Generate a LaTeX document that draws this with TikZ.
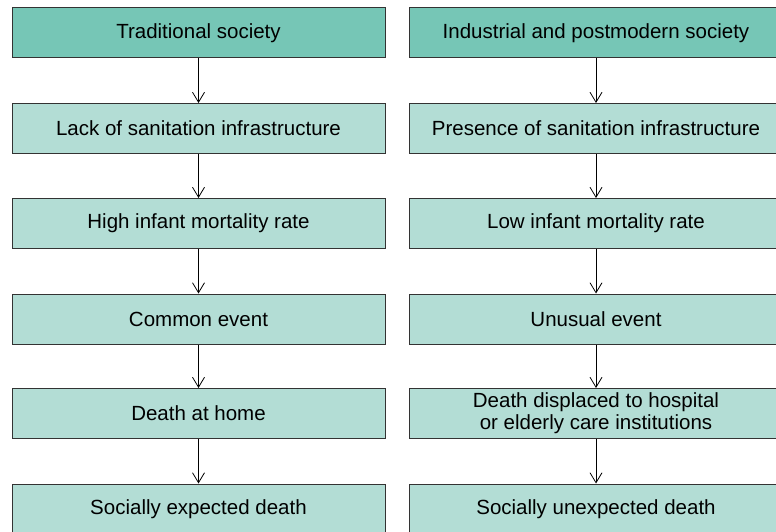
\documentclass[tikz,border=0pt]{standalone}
\usepackage{fontspec}
\setmainfont{Liberation Sans}
\usetikzlibrary{arrows.meta}
\definecolor{topfill}{HTML}{76C6B6}
\definecolor{boxfill}{HTML}{B3DDD5}
\definecolor{edge}{HTML}{333333}
\tikzset{
  box/.style={draw=edge, line width=1pt, fill=boxfill, minimum width=373pt, minimum height=50pt,
    inner sep=0pt, align=center, font=\fontsize{20.5}{22}\selectfont, text=black},
  headbox/.style={box, fill=topfill},
  link/.style={draw=black, line width=0.8pt, -{Straight Barb[length=10pt,width=12pt,line width=0.8pt]}}
}
\begin{document}
\begin{tikzpicture}[x=1pt,y=1pt]
\useasboundingbox (0,0) rectangle (776,531);
\clip (0,0) rectangle (776,531);
% left column
\node[headbox] (l1) at (198.5,498) {Traditional society};
\node[box] (l2) at (198.5,402.5) {Lack of sanitation infrastructure};
\node[box] (l3) at (198.5,307.5) {High infant mortality rate};
\node[box] (l4) at (198.5,212) {Common event};
\node[box] (l5) at (198.5,117.5) {Death at home};
\node[box] (l6) at (198.5,22) {Socially expected death};
% right column
\node[headbox] (r1) at (596,498) {Industrial and postmodern society};
\node[box] (r2) at (596,402.5) {Presence of sanitation infrastructure};
\node[box] (r3) at (596,307.5) {Low infant mortality rate};
\node[box] (r4) at (596,212) {Unusual event};
\node[box] (r5) at (596,117.5) {Death displaced to hospital\\or elderly care institutions};
\node[box] (r6) at (596,22) {Socially unexpected death};
\foreach \c in {l,r}{
  \draw[link] (\c1) -- (\c2);
  \draw[link] (\c2) -- (\c3);
  \draw[link] (\c3) -- (\c4);
  \draw[link] (\c4) -- (\c5);
  \draw[link] (\c5) -- (\c6);
}
\end{tikzpicture}
\end{document}
